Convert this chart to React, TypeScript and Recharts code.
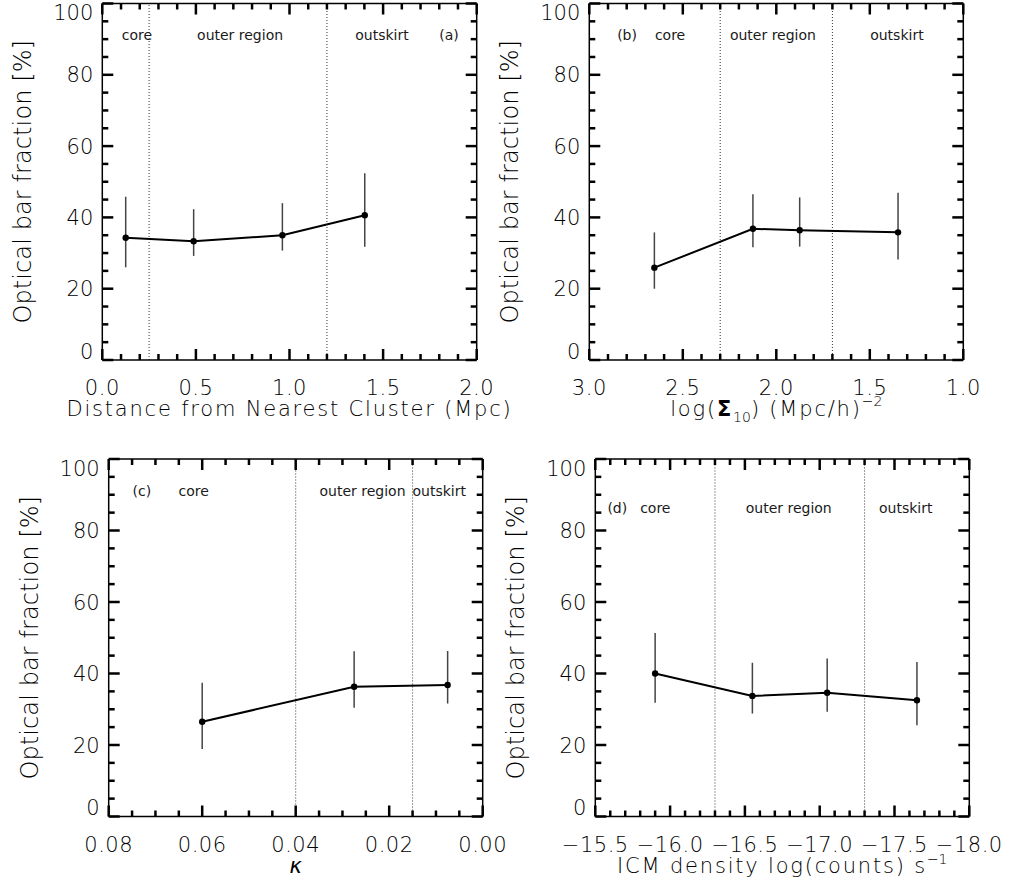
import React from "react";
import { ComposedChart, Line, XAxis, YAxis, ReferenceLine, ReferenceDot, ErrorBar } from "recharts";

const FONT = "'DejaVu Sans', 'Liberation Sans', sans-serif";
const INK = "#000";

// (a) distance from nearest cluster [Mpc]
const distX = [0.125, 0.488, 0.962, 1.402];
const distY = [34.3, 33.3, 35.0, 40.6];
const distLo = [26.0, 29.2, 30.7, 31.8];
const distHi = [45.8, 42.3, 44.0, 52.4];
const distBounds = [0.25, 1.2];
const distTicks = [0, 0.5, 1.0, 1.5, 2.0];

// (b) log(Sigma_10)
const sigX = [2.652, 2.125, 1.875, 1.349];
const sigY = [25.9, 36.8, 36.4, 35.8];
const sigLo = [20.0, 31.6, 31.8, 28.2];
const sigHi = [35.8, 46.5, 45.6, 46.9];
const sigBounds = [2.3, 1.7];
const sigTicks = [1.0, 1.5, 2.0, 2.5, 3.0];

// (c) kappa
const kapX = [0.06, 0.0275, 0.0075];
const kapY = [26.5, 36.3, 36.8];
const kapLo = [18.9, 30.4, 31.6];
const kapHi = [37.4, 46.2, 46.3];
const kapBounds = [0.04, 0.015];
const kapTicks = [0, 0.02, 0.04, 0.06, 0.08];

// (d) ICM density
const icmX = [-15.9, -16.55, -17.05, -17.65];
const icmY = [40.0, 33.7, 34.6, 32.5];
const icmLo = [31.8, 28.8, 29.3, 25.5];
const icmHi = [51.3, 43.0, 44.2, 43.2];
const icmBounds = [-16.3, -17.3];
const icmTicks = [-18.0, -17.5, -17.0, -16.5, -16.0, -15.5];

const yTicksMajor = [0, 20, 40, 60, 80, 100];
const regionNames = ["core", "outer region", "outskirt"];

// where the region names sit (data coords)
const distNameX = [0.185, 0.736, 1.494];
const sigNameX = [2.568, 2.018, 1.355];
const kapNameX = [0.0618, 0.0257, 0.0093];
const icmNameX = [-15.901, -16.793, -17.575];

function range(a: number, b: number, step: number) {
  const out: number[] = [];
  const n = Math.round((b - a) / step);
  for (let i = 0; i <= n; i++) out.push(+(a + i * step).toFixed(6));
  return out;
}

function rowsOf(xs: number[], ys: number[], lo: number[], hi: number[]) {
  return xs.map((x, i) => ({ x, y: ys[i], err: [ys[i] - lo[i], hi[i] - ys[i]] }));
}

const isMajor = (v: number, majors: number[]) => majors.some((m) => Math.abs(m - v) < 1e-9);

const textStyle = { fontFamily: FONT, fontWeight: 300, fill: INK };

type Side = "left" | "right" | "top" | "bottom";

function tickPath(side: Side, x: number, y: number, len: number) {
  if (side === "left") return `M${x},${y}h${len}`;
  if (side === "right") return `M${x},${y}h${-len}`;
  if (side === "bottom") return `M${x},${y}v${-len}`;
  return `M${x},${y}v${len}`;
}

// IDL-style inward ticks: long for labelled values, short for the rest
function makeTick(side: Side, majors: number[], fmt?: (v: number) => string, edges?: number[]) {
  return (props: any) => {
    const x = Number(props.x);
    const y = Number(props.y);
    const v = props.payload.value;
    const major = isMajor(v, majors);
    let label = null;
    if (major && fmt && side === "left") {
      let dy = 0;
      if (edges && v === edges[0]) dy = -9;
      if (edges && v === edges[1]) dy = 9;
      label = (
        <text x={x - 9} y={y + dy} dy="0.36em" textAnchor="end" fontSize={21} {...textStyle}>
          {fmt(v)}
        </text>
      );
    }
    if (major && fmt && side === "bottom") {
      label = (
        <text x={x} y={y + 35} textAnchor="middle" fontSize={21} letterSpacing={0.5} {...textStyle}>
          {fmt(v)}
        </text>
      );
    }
    return (
      <g>
        <path d={tickPath(side, x, y, major ? 11 : 6)} stroke="#000" strokeWidth={2.5} fill="none" />
        {label}
      </g>
    );
  };
}

const yTitle = (p: any) => {
  const vb = p.viewBox;
  const x = vb.x + vb.width - 71;
  const cy = vb.y + vb.height / 2;
  return (
    <text transform={`translate(${x},${cy}) rotate(-90)`} textAnchor="middle" fontSize={24} letterSpacing={0.1} {...textStyle}>
      Optical bar fraction [%]
    </text>
  );
};

const xTitle = (content: React.ReactNode, italic = false) => (p: any) => {
  const vb = p.viewBox;
  return (
    <text
      x={vb.x + vb.width / 2}
      y={vb.y + 56}
      textAnchor="middle"
      fontSize={21}
      letterSpacing={italic ? 0 : 1.8}
      fontStyle={italic ? "italic" : "normal"}
      fontFamily={FONT}
      fontWeight={300}
      fill={INK}
    >
      {content}
    </text>
  );
};

type Box = { left: number; top: number; width: number; height: number };
type Plot = { left: number; right: number; top: number; bottom: number };

function Panel(props: {
  box: Box;
  plot: Plot;
  rows: any[];
  domain: [number, number];
  reversed: boolean;
  xMajor: number[];
  xMinorStep: number;
  fmtX: (v: number) => string;
  bounds: number[];
  nameX: number[];
  nameY: number;
  tag: string;
  tagX: number;
  title: (p: any) => React.ReactNode;
}) {
  const { box, plot, rows, domain, reversed, xMajor, xMinorStep, fmtX, bounds, nameX, nameY, tag, tagX, title } = props;
  // the mirrored right/top axes take 1px each
  const margin = { top: plot.top - box.top - 1, right: box.left + box.width - plot.right - 1, bottom: 0, left: 0 };
  const yAxisW = plot.left - box.left;
  const xAxisH = box.top + box.height - plot.bottom;
  const xTicks = range(domain[0], domain[1], xMinorStep);
  const yTicks = range(0, 100, 5);
  const frame = { stroke: "#000", strokeWidth: 1.5 };
  const labelStyle = { fontSize: 14, fill: "#1a1a1a", fontFamily: FONT, fontWeight: 400 };

  return (
    <div style={{ position: "absolute", left: box.left, top: box.top }}>
      <ComposedChart width={box.width} height={box.height} data={rows} margin={margin}>
        <XAxis
          xAxisId="b"
          type="number"
          dataKey="x"
          domain={domain}
          reversed={reversed}
          allowDataOverflow
          ticks={xTicks}
          interval={0}
          tickSize={0}
          tickMargin={0}
          tickLine={false}
          height={xAxisH}
          axisLine={frame}
          tick={makeTick("bottom", xMajor, fmtX)}
          label={title}
        />
        <XAxis
          xAxisId="t"
          orientation="top"
          type="number"
          dataKey="x"
          domain={domain}
          reversed={reversed}
          allowDataOverflow
          ticks={xTicks}
          interval={0}
          tickSize={0}
          tickMargin={0}
          tickLine={false}
          height={1}
          axisLine={frame}
          tick={makeTick("top", xMajor)}
        />
        <YAxis
          yAxisId="l"
          type="number"
          domain={[0, 100]}
          allowDataOverflow
          ticks={yTicks}
          interval={0}
          tickSize={0}
          tickMargin={0}
          tickLine={false}
          width={yAxisW}
          axisLine={frame}
          tick={makeTick("left", yTicksMajor, (v) => String(v), [0, 100])}
          label={yTitle}
        />
        <YAxis
          yAxisId="r"
          orientation="right"
          type="number"
          domain={[0, 100]}
          allowDataOverflow
          ticks={yTicks}
          interval={0}
          tickSize={0}
          tickMargin={0}
          tickLine={false}
          width={1}
          axisLine={frame}
          tick={makeTick("right", yTicksMajor)}
        />
        {bounds.map((b) => (
          <ReferenceLine key={b} xAxisId="b" yAxisId="l" x={b} stroke="#333" strokeWidth={1} strokeDasharray="1 2" />
        ))}
        {regionNames.map((name, i) => (
          <ReferenceDot
            key={name}
            xAxisId="b"
            yAxisId="l"
            x={nameX[i]}
            y={nameY}
            r={0}
            stroke="none"
            fill="none"
            label={{ value: name, position: "center", ...labelStyle }}
          />
        ))}
        <ReferenceDot
          xAxisId="b"
          yAxisId="l"
          x={tagX}
          y={nameY}
          r={0}
          stroke="none"
          fill="none"
          label={{ value: tag, position: "center", ...labelStyle }}
        />
        <Line
          xAxisId="b"
          yAxisId="l"
          type="linear"
          dataKey="y"
          stroke="#000"
          strokeWidth={2}
          dot={{ r: 3.2, fill: "#000", stroke: "none" }}
          activeDot={false}
          isAnimationActive={false}
        >
          <ErrorBar dataKey="err" direction="y" width={0} stroke="#444" strokeWidth={1.5} isAnimationActive={false} />
        </Line>
      </ComposedChart>
    </div>
  );
}

const fmt1 = (v: number) => v.toFixed(1);
const fmt2 = (v: number) => v.toFixed(2);
const fmtNeg = (v: number) => "\u2212" + Math.abs(v).toFixed(1);

export default function App() {
  return (
    <div style={{ position: "fixed", left: 0, top: 0, width: 1009, height: 894, background: "#fff", fontFamily: FONT }}>
      <style>{"svg.recharts-surface { overflow: visible; }"}</style>
      <Panel
        box={{ left: 0, top: 0, width: 500, height: 440 }}
        plot={{ left: 102.3, right: 476.7, top: 3.5, bottom: 360 }}
        rows={rowsOf(distX, distY, distLo, distHi)}
        domain={[0, 2]}
        reversed={false}
        xMajor={distTicks}
        xMinorStep={0.1}
        fmtX={fmt1}
        bounds={distBounds}
        nameX={distNameX}
        nameY={91.2}
        tag="(a)"
        tagX={1.852}
        title={xTitle("Distance from Nearest Cluster (Mpc)")}
      />
      <Panel
        box={{ left: 500, top: 0, width: 509, height: 440 }}
        plot={{ left: 589.3, right: 963.3, top: 3.5, bottom: 360 }}
        rows={rowsOf(sigX, sigY, sigLo, sigHi)}
        domain={[1, 3]}
        reversed={true}
        xMajor={sigTicks}
        xMinorStep={0.1}
        fmtX={fmt1}
        bounds={sigBounds}
        nameX={sigNameX}
        nameY={91.2}
        tag="(b)"
        tagX={2.798}
        title={xTitle(
          <>
            log(<tspan fontWeight="bold">Σ</tspan>
            <tspan dy={6} fontSize={14} letterSpacing={0}>10</tspan>
            <tspan dy={-6}>) (Mpc/h)</tspan>
            <tspan dy={-10} fontSize={14} letterSpacing={0}>−2</tspan>
          </>
        )}
      />
      <Panel
        box={{ left: 0, top: 440, width: 500, height: 454 }}
        plot={{ left: 108.7, right: 482.7, top: 459, bottom: 816.5 }}
        rows={rowsOf(kapX, kapY, kapLo, kapHi)}
        domain={[0, 0.08]}
        reversed={true}
        xMajor={kapTicks}
        xMinorStep={0.005}
        fmtX={fmt2}
        bounds={kapBounds}
        nameX={kapNameX}
        nameY={91.1}
        tag="(c)"
        tagX={0.0729}
        title={xTitle("κ", true)}
      />
      <Panel
        box={{ left: 500, top: 440, width: 509, height: 454 }}
        plot={{ left: 595.3, right: 969.3, top: 459, bottom: 816.5 }}
        rows={rowsOf(icmX, icmY, icmLo, icmHi)}
        domain={[-18, -15.5]}
        reversed={true}
        xMajor={icmTicks}
        xMinorStep={0.1}
        fmtX={fmtNeg}
        bounds={icmBounds}
        nameX={icmNameX}
        nameY={86.2}
        tag="(d)"
        tagX={-15.647}
        title={xTitle(
          <>
            ICM density log(counts) s<tspan dy={-9} fontSize={14} letterSpacing={0}>−1</tspan>
          </>
        )}
      />
    </div>
  );
}
